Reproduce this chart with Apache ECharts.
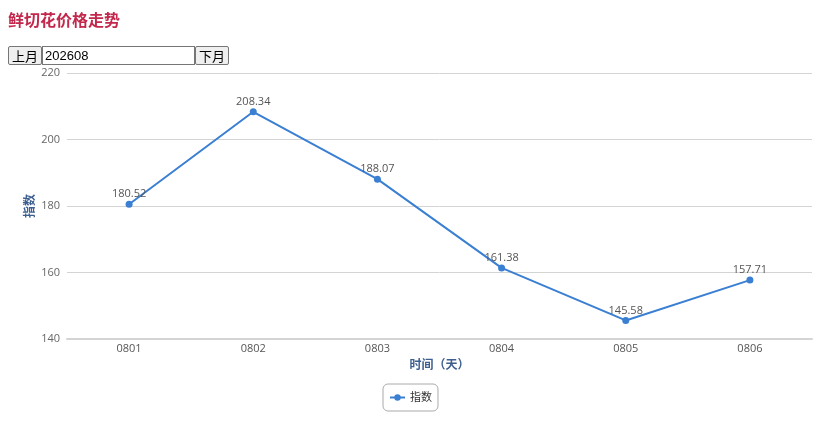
<!DOCTYPE html>
<html>
<head>
<meta charset="utf-8">
<script src="https://cdn.jsdelivr.net/npm/echarts@6/dist/echarts.min.js"></script>
<style>
  body { margin: 0; background: #fff; }
  #title { position: absolute; left: 8px; top: 7px; margin: 0; font: bold 16px "Noto Sans CJK SC", serif; color: #c3284c; }
  #ctrl { position: absolute; left: 8px; top: 46px; z-index: 2; display: flex; }
  #ctrl button { height: 19px; padding: 0 3px; font: 13px "Noto Sans CJK SC", sans-serif; line-height: 17px; border: 1px solid #767676; background: #efefef; border-radius: 2px; }
  #ctrl input { width: 147px; height: 15px; padding: 1px 2px; margin: 0; font: 13px "Liberation Sans", sans-serif; border: 1px solid #767676; }
  #chart { position: absolute; left: 0; top: 0; width: 821px; height: 424px; }
</style>
</head>
<body>
<div id="chart"></div>
<h3 id="title">鲜切花价格走势</h3>
<div id="ctrl"><button>上月</button><input value="202608"><button>下月</button></div>
<script>
// 日期
var days = ['0801', '0802', '0803', '0804', '0805', '0806'];
// 指数
var indexValues = [180.52, 208.34, 188.07, 161.38, 145.58, 157.71];

var chartTrend = echarts.init(document.getElementById('chart'));
var optionTrend = {
  textStyle: { fontFamily: 'Open Sans, Noto Sans CJK SC, sans-serif' },
  grid: { left: 67, right: 9, top: 73, bottom: 85 },
  legend: {
    data: ['指数'],
    bottom: 13,
    left: 'center',
    borderColor: '#aaa',
    borderWidth: 1,
    borderRadius: 5,
    padding: [8, 6],
    itemWidth: 15,
    itemHeight: 8,
    itemGap: 5,
    textStyle: { color: '#333', fontSize: 11 }
  },
  xAxis: {
    type: 'category',
    data: days,
    name: '时间（天）',
    nameLocation: 'middle',
    nameGap: 21,
    nameTextStyle: { color: '#3d5f8f', fontWeight: 'bold', fontSize: 12 },
    axisLine: { lineStyle: { color: '#d4d4d4', width: 2 } },
    axisTick: { lineStyle: { color: '#d4d4d4' } },
    axisLabel: { color: '#555', fontSize: 11, margin: 4 }
  },
  yAxis: {
    type: 'value',
    min: 140,
    max: 220,
    interval: 20,
    name: '指数',
    nameLocation: 'middle',
    nameGap: 30,
    nameMoveOverlap: false,
    nameTextStyle: { color: '#3d5f8f', fontWeight: 'bold', fontSize: 12 },
    axisLine: { show: false },
    axisTick: { show: false },
    axisLabel: { color: '#666', fontSize: 11, margin: 7 },
    splitLine: { lineStyle: { color: '#d4d4d4' } }
  },
  series: [{
    name: '指数',
    type: 'line',
    data: indexValues,
    symbol: 'circle',
    symbolSize: 7,
    itemStyle: { color: '#3a7fd2' },
    lineStyle: { color: '#3a7fd2', width: 2 },
    label: { show: true, position: 'top', color: '#555', fontSize: 11, distance: 1 }
  }]
};
chartTrend.setOption(optionTrend);
</script>
</body>
</html>
